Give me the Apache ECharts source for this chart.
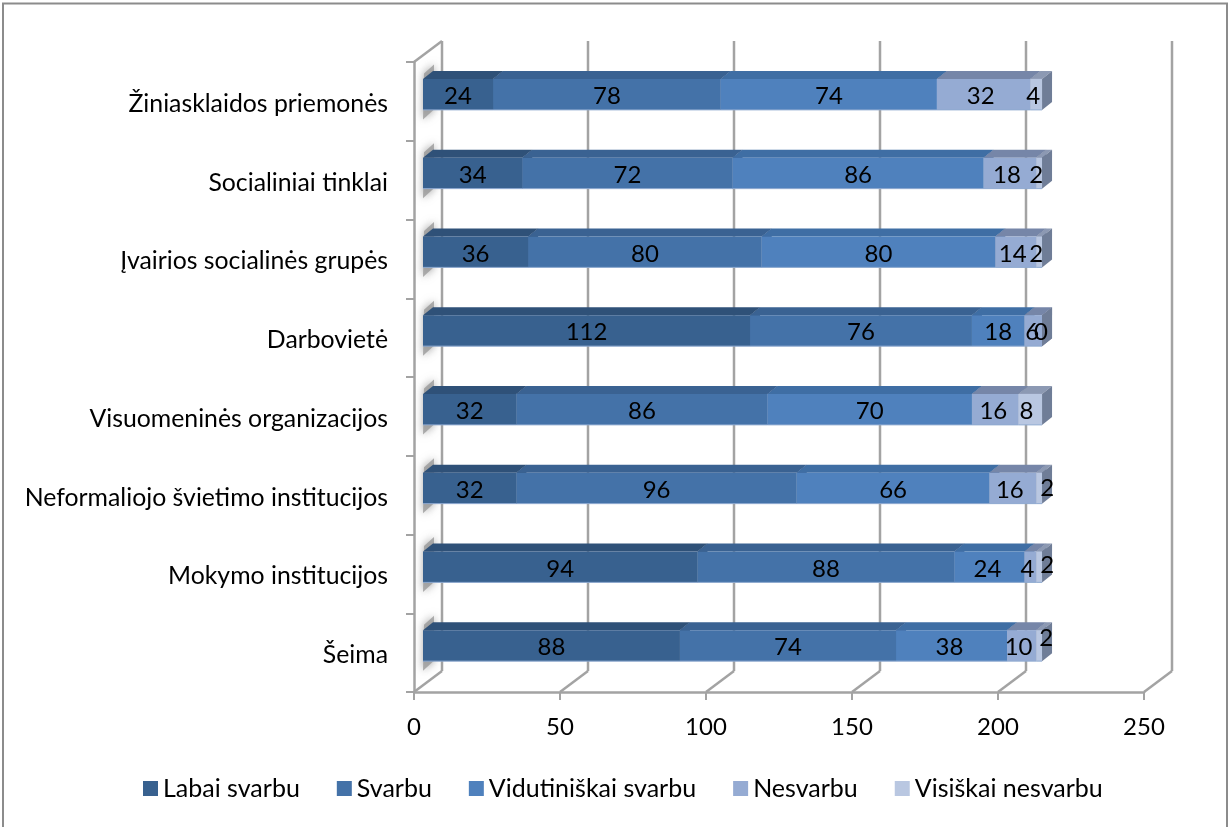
<!DOCTYPE html>
<html><head><meta charset="utf-8">
<style>html,body{margin:0;padding:0;background:#fff}#c{width:1228px;height:827px}</style>
<script src="https://cdn.jsdelivr.net/npm/echarts@6/dist/echarts.min.js"></script>
</head><body><div id="c"></div>
<script>
const categories = ['Šeima','Mokymo institucijos','Neformaliojo švietimo institucijos','Visuomeninės organizacijos','Darbovietė','Įvairios socialinės grupės','Socialiniai tinklai','Žiniasklaidos priemonės'];
const labaiSvarbu = [88,94,32,32,112,36,34,24];
const svarbu = [74,88,96,86,76,80,72,78];
const vidutiniskai = [38,24,66,70,18,80,86,74];
const nesvarbu = [10,4,16,16,6,14,18,32];
const visiskai = [2,2,2,8,0,2,2,4];
const seriesNames = ['Labai svarbu','Svarbu','Vidutiniškai svarbu','Nesvarbu','Visiškai nesvarbu'];
const seriesValues = [labaiSvarbu,svarbu,vidutiniskai,nesvarbu,visiskai];
const xTicks = [0,50,100,150,200,250];

const FONT = 'Lato';
const FS = 24.8, FSLEG = 25, FSNUM = 24;
const front = ['#38618F','#4472A8','#4F81BD','#95ABD3','#B9C7E1'];
const topc = ['#2F5178','#3A6292','#3F6EA4','#7686A8','#8C99B3'];
const side = ['#2D4B70','#38598A','#3E6596','#6F7D97','#6F7D97'];
const BAR_SHIFT = [9,-7], BAR_DEPTH = [10,-8], WALL = [28,-21], BAR_H = 31;
// hand-placed label nudges [dx,dy] by "row-series"
const nudge = {'0-4':[7,-9],'1-4':[8,-4],'2-4':[8,-2],'5-4':[-3,0],'6-4':[-3,0],'4-4':[-1,0],'7-4':[-3,0],'3-4':[-4,0],
  '0-3':[-3,0],'1-3':[-3,0],'2-3':[-3,0],'3-3':[-2,0],'4-3':[-1,0],'5-3':[-3,0],'6-3':[-3,0],'7-3':[-3,0],
  '0-2':[-2,0],'1-2':[-2,0]};

function barItem(sIdx){
  return function(params, api){
    const i = api.value(1);
    let sum = 0;
    for(let k=0;k<sIdx;k++) sum += seriesValues[k][i];
    const v = api.value(0);
    const p0 = api.coord([sum,i]), p1 = api.coord([sum+v,i]);
    const x0 = p0[0]+BAR_SHIFT[0], x1 = p1[0]+BAR_SHIFT[0];
    const yc = p0[1]+BAR_SHIFT[1], yt = yc-BAR_H/2, yb = yc+BAR_H/2;
    const [dx,dy] = BAR_DEPTH;
    const n = nudge[i+'-'+sIdx] || [0,0];
    const poly = (pts,fill)=>({type:'polygon',shape:{points:pts},style:{fill:fill}});
    return {type:'group',children:[
      poly([[x0,yt],[x1,yt],[x1+dx,yt+dy],[x0+dx,yt+dy]],topc[sIdx]),
      poly([[x1,yt],[x1+dx,yt+dy],[x1+dx,yb+dy],[x1,yb]],side[sIdx]),
      {type:'rect',shape:{x:x0,y:yt,width:x1-x0,height:yb-yt},style:{fill:front[sIdx]}},
      {type:'line',shape:{x1:x0,y1:yb,x2:x1,y2:yb},style:{stroke:'#8FAAD0',lineWidth:1}},
      {type:'text',z2:20,style:{text:String(v),x:(x0+x1)/2+n[0],y:yc+2+n[1],align:'center',verticalAlign:'middle',font:FSNUM+'px '+FONT,fill:'#000'}}
    ]};
  };
}
function frameItem(params, api){
  const v = api.value(0);
  const band = api.size([0,1])[1];
  const n = categories.length;
  const c0 = api.coord([v,0]);
  const yBottom = c0[1]+band/2, yTop = yBottom-band*n, x = c0[0];
  const [wx,wy] = WALL;
  const st = {stroke:'#a3a3a3',lineWidth:2.5};
  const kids = [
    {type:'line',shape:{x1:x,y1:yBottom,x2:x+wx,y2:yBottom+wy},style:st},
    {type:'line',shape:{x1:x+wx,y1:yBottom+wy,x2:x+wx,y2:yTop+wy},style:st}
  ];
  if(v===0) kids.push({type:'line',shape:{x1:x,y1:yTop,x2:x+wx,y2:yTop+wy},style:st});
  return {type:'group',children:kids};
}
function shadowItem(params, api){
  const i = api.value(0);
  const c = api.coord([0,i]);
  const x = c[0], y = c[1];
  return {type:'polygon',silent:true,shape:{points:[[x+10,y-28],[x+20,y-37],[x+20,y+8],[x+9,y+18]]},
    style:{fill:'rgba(150,150,150,0.75)',shadowBlur:8,shadowColor:'rgba(130,130,130,1)'}};
}
const series = [
  {type:'custom',name:'frame',coordinateSystem:'cartesian2d',silent:true,z:1,data:xTicks.map(t=>[t,0]),encode:{x:0,y:1},renderItem:frameItem,clip:false},
  {type:'custom',name:'shadow',coordinateSystem:'cartesian2d',silent:true,z:1,data:categories.map((c,i)=>[i]),encode:{y:0},renderItem:shadowItem,clip:false}
];
seriesNames.forEach((n,s)=>{
  series.push({type:'custom',name:n,coordinateSystem:'cartesian2d',z:2,clip:false,itemStyle:{color:front[s]},
    data:seriesValues[s].map((v,i)=>[v,i]),encode:{x:0,y:1},renderItem:barItem(s)});
});
const chart = echarts.init(document.getElementById('c'),null,{renderer:'canvas'});
chart.setOption({
  animation:false,
  backgroundColor:'#fff',
  textStyle:{fontFamily:FONT},
  graphic:[{type:'rect',shape:{x:3,y:3.5,width:1224,height:900},style:{fill:'none',stroke:'#8c8c8c',lineWidth:2},silent:true}],
  grid:{left:414,top:62,width:730,height:630,containLabel:false},
  xAxis:{type:'value',min:0,max:250,interval:50,splitLine:{show:false},
    axisLine:{show:true,onZero:false,lineStyle:{color:'#a3a3a3',width:2.5}},
    axisTick:{show:true,length:8,lineStyle:{color:'#a3a3a3',width:2}},
    axisLabel:{color:'#000',fontSize:FSNUM,fontFamily:FONT,margin:23}},
  yAxis:{type:'category',data:categories,
    axisLine:{show:true,lineStyle:{color:'#a3a3a3',width:2.5}},
    axisTick:{show:true,length:8,lineStyle:{color:'#a3a3a3',width:2}},
    axisLabel:{color:'#000',fontSize:FS,fontFamily:FONT,margin:26,interval:0,
      formatter:v=>'{t|'+v+'}',
      rich:{t:{color:'#000',fontSize:FS,fontFamily:FONT,padding:[5,0,0,0]}}}},
  legend:{show:true,data:seriesNames,left:143,top:776,padding:0,icon:'rect',itemWidth:15,itemHeight:15,itemGap:37,
    textStyle:{color:'#000',fontSize:FSLEG,fontFamily:FONT}},
  series:series
});
</script></body></html>
